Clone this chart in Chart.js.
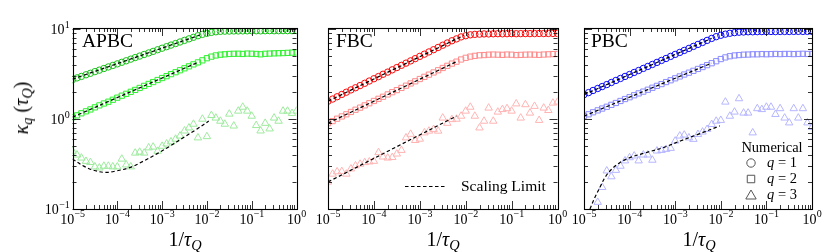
<!DOCTYPE html>
<html>
<head>
<meta charset="utf-8">
<script src="https://cdn.jsdelivr.net/npm/chart.js@4.4.1/dist/chart.umd.min.js"></script>
<style>
  body { margin: 0; background: #fff; width: 830px; height: 252px; overflow: hidden; position: relative; }
  canvas { position: absolute; top: 0; }
  .txt { position: absolute; font-family: "Liberation Serif", serif; color: #000; line-height: 1; white-space: nowrap; }
  .panel { font-size: 19.5px; top: 31px; }
  .xt { font-size: 20px; top: 229px; transform: translateX(-50%); }
  .yt { font-size: 20px; left: 21px; top: 108px; transform: translate(-50%, -50%) rotate(-90deg); }
  sub { font-size: 0.72em; vertical-align: -0.3em; line-height: 0; }
</style>
</head>
<body>
<canvas id="apbc" width="320" height="252" style="left:0;width:320px;height:252px"></canvas>
<canvas id="fbc" width="275" height="252" style="left:300px;width:275px;height:252px"></canvas>
<canvas id="pbc" width="275" height="252" style="left:555px;width:275px;height:252px"></canvas>

<div class="txt panel" style="left:82px">APBC</div>
<div class="txt panel" style="left:336px">FBC</div>
<div class="txt panel" style="left:591px">PBC</div>
<div class="txt yt"><i>κ</i><sub><i>q</i></sub> (<i>τ</i><sub><i>Q</i></sub>)</div>
<div class="txt xt" style="left:185px">1/<i>τ</i><sub><i>Q</i></sub></div>
<div class="txt xt" style="left:443px">1/<i>τ</i><sub><i>Q</i></sub></div>
<div class="txt xt" style="left:699px">1/<i>τ</i><sub><i>Q</i></sub></div>

<script>
/* ===================== DATA ===================== */

// quench rates 1/tau_Q, ten per decade
const X_GRID = [
  1.00e-5, 1.26e-5, 1.58e-5, 2.00e-5, 2.51e-5, 3.16e-5, 3.98e-5, 5.01e-5, 6.31e-5, 7.94e-5,
  1.00e-4, 1.26e-4, 1.58e-4, 2.00e-4, 2.51e-4, 3.16e-4, 3.98e-4, 5.01e-4, 6.31e-4, 7.94e-4,
  1.00e-3, 1.26e-3, 1.58e-3, 2.00e-3, 2.51e-3, 3.16e-3, 3.98e-3, 5.01e-3, 6.31e-3, 7.94e-3,
  1.00e-2, 1.26e-2, 1.58e-2, 2.00e-2, 2.51e-2, 3.16e-2, 3.98e-2, 5.01e-2, 6.31e-2, 7.94e-2,
  1.00e-1, 1.26e-1, 1.58e-1, 2.00e-1, 2.51e-1, 3.16e-1, 3.98e-1, 5.01e-1, 6.31e-1, 7.94e-1,
  1.00
];

const X_MAJOR = [1e-5, 1e-4, 1e-3, 1e-2, 1e-1, 1];
const Y_MAJOR = [0.1, 1, 10];

// APBC
const APBC_Q1 = [
  2.75, 2.87, 2.98, 3.11, 3.23, 3.37, 3.50, 3.65, 3.80, 3.95,
  4.11, 4.28, 4.45, 4.64, 4.83, 5.02, 5.23, 5.44, 5.66, 5.90,
  6.14, 6.39, 6.65, 6.92, 7.20, 7.50, 7.80, 8.12, 8.45, 8.75,
  9.00, 9.20, 9.35, 9.45, 9.50, 9.52, 9.55, 9.55, 9.57, 9.58,
  9.60, 9.60, 9.58, 9.60, 9.62, 9.60, 9.62, 9.63, 9.62, 9.63, 9.65
];
const APBC_Q2 = [
  1.05, 1.10, 1.16, 1.22, 1.28, 1.35, 1.42, 1.49, 1.56, 1.64,
  1.73, 1.82, 1.91, 2.01, 2.11, 2.22, 2.34, 2.46, 2.58, 2.72,
  2.86, 3.00, 3.16, 3.32, 3.49, 3.67, 3.86, 4.06, 4.27, 4.50,
  4.75, 4.95, 5.10, 5.20, 5.25, 5.30, 5.32, 5.33, 5.30, 5.35,
  5.33, 5.30, 5.25, 5.32, 5.35, 5.38, 5.40, 5.42, 5.45, 5.48, 5.50
];
const APBC_Q3 = [
  0.44, 0.40, 0.37, 0.34, 0.33, 0.295, 0.287, 0.30, 0.30, 0.295,
  0.295, 0.36, 0.31, 0.295, 0.42, 0.43, 0.42, 0.48, 0.49, 0.44,
  0.50, 0.53, 0.56, 0.60, 0.65, 0.74, 0.80, 0.88, 0.62, 1.00,
  0.64, 1.10, 1.03, 0.95, 0.88, 1.14, 0.84, 1.23, 1.36, 1.23,
  1.08, 0.85, 0.74, 0.90, 0.78, 1.03, 0.95, 1.23, 1.23, 1.16, 1.23
];
const APBC_SL1_X = [1e-5, 7e-3];
const APBC_SL1_Y = [2.78, 8.6];
const APBC_SL2_X = [1e-5, 6.5e-3];
const APBC_SL2_Y = [1.05, 4.3];
const APBC_SL3_X = [1e-5, 1.78e-5, 2.95e-5, 5.4e-5, 9.8e-5, 1.95e-4, 3.8e-4, 7.6e-4, 1.5e-3, 2.95e-3, 5.9e-3, 1.1e-2];
const APBC_SL3_Y = [0.36, 0.30, 0.27, 0.255, 0.266, 0.29, 0.34, 0.41, 0.50, 0.62, 0.77, 0.95];

// FBC
const FBC_Q1 = [
  1.58, 1.67, 1.77, 1.88, 1.99, 2.11, 2.23, 2.36, 2.50, 2.65,
  2.81, 2.97, 3.15, 3.33, 3.53, 3.74, 3.96, 4.19, 4.44, 4.70,
  4.98, 5.27, 5.58, 5.91, 6.26, 6.63, 7.02, 7.43, 7.80, 8.20,
  8.45, 8.65, 8.75, 8.80, 8.85, 8.85, 8.88, 8.90, 8.88, 8.90,
  8.92, 8.90, 8.92, 8.93, 8.92, 8.94, 8.95, 8.94, 8.95, 8.96, 8.95
];
const FBC_Q2 = [
  0.90, 0.95, 1.01, 1.07, 1.13, 1.20, 1.27, 1.34, 1.42, 1.50,
  1.59, 1.68, 1.77, 1.88, 1.99, 2.10, 2.22, 2.35, 2.49, 2.63,
  2.79, 2.95, 3.12, 3.30, 3.49, 3.70, 3.91, 4.14, 4.35, 4.60,
  4.80, 4.95, 5.05, 5.12, 5.15, 5.20, 5.22, 5.20, 5.18, 5.22,
  5.20, 5.15, 5.18, 5.20, 5.22, 5.20, 5.18, 5.22, 5.25, 5.28, 5.30
];
const FBC_Q3 = [
  0.20, 0.245, 0.26, 0.262, 0.245, 0.28, 0.303, 0.316, 0.329, 0.335,
  0.34, 0.425, 0.38, 0.37, 0.375, 0.41, 0.45, 0.62, 0.68, 0.58,
  0.60, 0.705, 0.737, 0.77, 0.737, 1.03, 0.90, 0.99, 1.00, 1.08,
  1.23, 1.36, 1.08, 0.80, 0.95, 1.33, 0.95, 1.20, 1.28, 1.31,
  1.23, 1.48, 1.03, 1.45, 1.17, 1.39, 0.97, 1.33, 1.25, 1.51, 1.55
];
const FBC_SL1_X = [1e-5, 9e-3];
const FBC_SL1_Y = [1.58, 8.5];
const FBC_SL2_X = [1e-5, 6.3e-3];
const FBC_SL2_Y = [0.90, 4.35];
const FBC_SL3_X = [1e-5, 6.3e-3];
const FBC_SL3_Y = [0.20, 1.08];

// PBC
const PBC_Q1 = [
  1.87, 1.97, 2.08, 2.19, 2.30, 2.42, 2.55, 2.69, 2.83, 2.98,
  3.13, 3.30, 3.47, 3.66, 3.85, 4.05, 4.27, 4.49, 4.72, 4.98,
  5.24, 5.51, 5.80, 6.11, 6.43, 6.77, 7.12, 7.50, 7.89, 8.25,
  8.55, 8.80, 9.00, 9.15, 9.25, 9.30, 9.35, 9.35, 9.38, 9.40,
  9.40, 9.42, 9.40, 9.42, 9.43, 9.42, 9.44, 9.45, 9.44, 9.45, 9.46
];
const PBC_Q2 = [
  1.08, 1.13, 1.19, 1.25, 1.31, 1.37, 1.44, 1.51, 1.59, 1.67,
  1.75, 1.84, 1.93, 2.02, 2.12, 2.23, 2.34, 2.45, 2.58, 2.70,
  2.84, 2.98, 3.13, 3.28, 3.44, 3.61, 3.79, 3.98, 4.18, 4.40,
  4.65, 4.85, 5.00, 5.10, 5.15, 5.20, 5.22, 5.25, 5.25, 5.28,
  5.26, 5.28, 5.30, 5.28, 5.30, 5.30, 5.28, 5.30, 5.32, 5.30, 5.30
];
const PBC_Q3 = [
  null, null, null, 0.119, 0.174, 0.266, 0.229, 0.27, 0.30, 0.344,
  0.373, 0.39, 0.344, 0.40, 0.40, 0.35, 0.443, 0.45, 0.462, 0.474,
  0.571, 0.65, 0.666, 0.62, 0.597, 0.677, 0.72, 0.77, 0.874, 0.95,
  0.97, 1.55, 1.08, 1.20, 1.69, 1.17, 1.17, 0.705, 1.31, 1.28,
  1.36, 1.36, 1.13, 1.31, 1.03, 0.91, 1.31, 1.03, 1.31, 0.91, 0.81
];
const PBC_SL1_X = [1e-5, 6.3e-3];
const PBC_SL1_Y = [1.87, 7.9];
const PBC_SL2_X = [1e-5, 6.3e-3];
const PBC_SL2_Y = [1.08, 4.19];
const PBC_SL3_X = [1.35e-5, 1.74e-5, 2.24e-5, 2.88e-5, 4.07e-5, 6.17e-5, 1.02e-4, 2.34e-4, 5.5e-4, 1.29e-3, 3.47e-3, 9.5e-3];
const PBC_SL3_Y = [0.1, 0.135, 0.174, 0.224, 0.278, 0.329, 0.373, 0.425, 0.482, 0.571, 0.689, 0.84];

/* ===================== STYLE ===================== */

const COLORS = {
  apbc: ["#18c018", "#30f030", "#9eea9e"],
  fbc: ["#ff0808", "#ff8c8c", "#ffb4b4"],
  pbc: ["#0808ff", "#8c8cff", "#b6b6ff"],
};
const SERIF = '"Liberation Serif", serif';

/* ===================== HELPERS ===================== */

function markers(ys, style, color, r) {
  return {
    data: X_GRID.map((x, i) => ({ x, y: ys[i] })),
    showLine: false,
    pointStyle: style,
    pointRadius: r,
    pointBorderColor: color,
    pointBackgroundColor: "rgba(0,0,0,0)",
    pointBorderWidth: 1,
    order: 2,
  };
}

function scaling(xs, ys) {
  return {
    data: xs.map((x, i) => ({ x, y: ys[i] })),
    showLine: true,
    borderColor: "#000",
    borderWidth: 1.2,
    borderDash: [3.5, 2.5],
    pointRadius: 0,
    tension: 0.35,
    order: 1,
  };
}

function sciLabel(ctx, exp, x, y, align) {
  const base = "10";
  const sup = exp < 0 ? "\u2212" + -exp : String(exp);
  ctx.font = "14px " + SERIF;
  const wb = ctx.measureText(base).width;
  ctx.font = "10px " + SERIF;
  const ws = ctx.measureText(sup).width;
  const x0 = align === "center" ? x - (wb + ws) / 2 : x - wb - ws;
  ctx.textAlign = "left";
  ctx.textBaseline = "middle";
  ctx.font = "14px " + SERIF;
  ctx.fillText(base, x0, y);
  ctx.font = "10px " + SERIF;
  ctx.fillText(sup, x0 + wb + 0.3, y - 5.5);
}

/* frame, inward ticks on all sides, decade labels */
const sciAxes = {
  id: "sciAxes",
  afterDraw(chart, args, opts) {
    const { ctx, chartArea: a, scales } = chart;
    const xs = scales.x, ys = scales.y;
    ctx.save();
    ctx.strokeStyle = "#000";
    ctx.fillStyle = "#000";
    ctx.lineWidth = 0.8;
    ctx.beginPath();

    X_MAJOR.forEach((v, i) => {
      for (let m = 1; m < 10; m++) {
        if (m > 1 && i === X_MAJOR.length - 1) break;
        const px = Math.round(xs.getPixelForValue(v * m)) + 0.5;
        const len = m === 1 ? 8 : 4;
        ctx.moveTo(px, a.bottom); ctx.lineTo(px, a.bottom - len);
        ctx.moveTo(px, a.top); ctx.lineTo(px, a.top + len);
      }
    });
    Y_MAJOR.forEach((v, i) => {
      for (let m = 1; m < 10; m++) {
        if (m > 1 && i === Y_MAJOR.length - 1) break;
        const py = Math.round(ys.getPixelForValue(v * m)) + 0.5;
        const len = m === 1 ? 8 : 4;
        ctx.moveTo(a.left, py); ctx.lineTo(a.left + len, py);
        ctx.moveTo(a.right, py); ctx.lineTo(a.right - len, py);
      }
    });
    ctx.stroke();

    ctx.lineWidth = 1.1;
    ctx.strokeRect(Math.round(a.left) + 0.5, Math.round(a.top) + 0.5,
      Math.round(a.right - a.left), Math.round(a.bottom - a.top));

    X_MAJOR.forEach((v) => {
      sciLabel(ctx, Math.round(Math.log10(v)), xs.getPixelForValue(v), a.bottom + 11, "center");
    });
    if (opts.yLabels) {
      Y_MAJOR.forEach((v) => {
        sciLabel(ctx, Math.round(Math.log10(v)), a.left - 3, ys.getPixelForValue(v) + 1.5, "right");
      });
    }
    ctx.restore();
  },
};

const scalingLegend = {
  id: "scalingLegend",
  afterDraw(chart) {
    const { ctx, chartArea: a } = chart;
    const y = a.bottom - 22.5;
    ctx.save();
    ctx.strokeStyle = "#000";
    ctx.lineWidth = 1.2;
    ctx.setLineDash([3.5, 2.5]);
    ctx.beginPath();
    ctx.moveTo(a.left + 77, y); ctx.lineTo(a.left + 119, y);
    ctx.stroke();
    ctx.setLineDash([]);
    ctx.fillStyle = "#000";
    ctx.font = "15.5px " + SERIF;
    ctx.textBaseline = "middle";
    ctx.fillText("Scaling Limit", a.left + 133, y);
    ctx.restore();
  },
};

const numericalLegend = {
  id: "numericalLegend",
  afterDraw(chart) {
    const { ctx, chartArea: a } = chart;
    const mx = a.left + 167, tx = a.left + 183;
    ctx.save();
    ctx.fillStyle = "#000";
    ctx.textBaseline = "middle";
    ctx.textAlign = "center";
    ctx.font = "14.5px " + SERIF;
    ctx.fillText("Numerical", a.left + 188, 148);
    ctx.textAlign = "left";
    const items = [["circle", 4.2, "1", 163], ["rect", 5.3, "2", 179], ["triangle", 6, "3", 195]];
    items.forEach(([style, r, q, y]) => {
      ctx.strokeStyle = "#555";
      ctx.fillStyle = "rgba(0,0,0,0)";
      ctx.lineWidth = 1;
      Chart.helpers.drawPoint(ctx, { pointStyle: style, radius: r, borderWidth: 1 }, mx, style === "triangle" ? y + 1 : y);
      ctx.fillStyle = "#000";
      ctx.font = "italic 14.5px " + SERIF;
      ctx.fillText("q", tx, y);
      const w = ctx.measureText("q").width;
      ctx.font = "14.5px " + SERIF;
      ctx.fillText(" = " + q, tx + w, y);
    });
    ctx.restore();
  },
};

function makePanel(id, pad, datasets, showYLabels, extra) {
  return new Chart(document.getElementById(id), {
    type: "scatter",
    data: { datasets },
    options: {
      responsive: false,
      animation: false,
      events: [],
      layout: { padding: pad },
      scales: {
        x: { type: "logarithmic", min: 1e-5, max: 1, display: false },
        y: { type: "logarithmic", min: 0.1, max: 10.3, display: false },
      },
      plugins: {
        legend: { display: false },
        tooltip: { enabled: false },
        sciAxes: { yLabels: showYLabels },
      },
    },
    plugins: [sciAxes].concat(extra),
  });
}

/* ===================== PANELS ===================== */

makePanel("apbc", { left: 72.5, right: 23.5, top: 28, bottom: 43 }, [
  markers(APBC_Q1, "circle", COLORS.apbc[0], 3.2),
  markers(APBC_Q2, "rect", COLORS.apbc[1], 3.7),
  markers(APBC_Q3, "triangle", COLORS.apbc[2], 4.3),
  scaling(APBC_SL1_X, APBC_SL1_Y),
  scaling(APBC_SL2_X, APBC_SL2_Y),
  scaling(APBC_SL3_X, APBC_SL3_Y),
], true, []);

makePanel("fbc", { left: 28, right: 17.5, top: 28, bottom: 43 }, [
  markers(FBC_Q1, "circle", COLORS.fbc[0], 3.2),
  markers(FBC_Q2, "rect", COLORS.fbc[1], 3.7),
  markers(FBC_Q3, "triangle", COLORS.fbc[2], 4.3),
  scaling(FBC_SL1_X, FBC_SL1_Y),
  scaling(FBC_SL2_X, FBC_SL2_Y),
  scaling(FBC_SL3_X, FBC_SL3_Y),
], false, [scalingLegend]);

makePanel("pbc", { left: 29, right: 18, top: 28, bottom: 43 }, [
  markers(PBC_Q1, "circle", COLORS.pbc[0], 3.2),
  markers(PBC_Q2, "rect", COLORS.pbc[1], 3.7),
  markers(PBC_Q3, "triangle", COLORS.pbc[2], 4.3),
  scaling(PBC_SL1_X, PBC_SL1_Y),
  scaling(PBC_SL2_X, PBC_SL2_Y),
  scaling(PBC_SL3_X, PBC_SL3_Y),
], false, [numericalLegend]);
</script>
</body>
</html>
